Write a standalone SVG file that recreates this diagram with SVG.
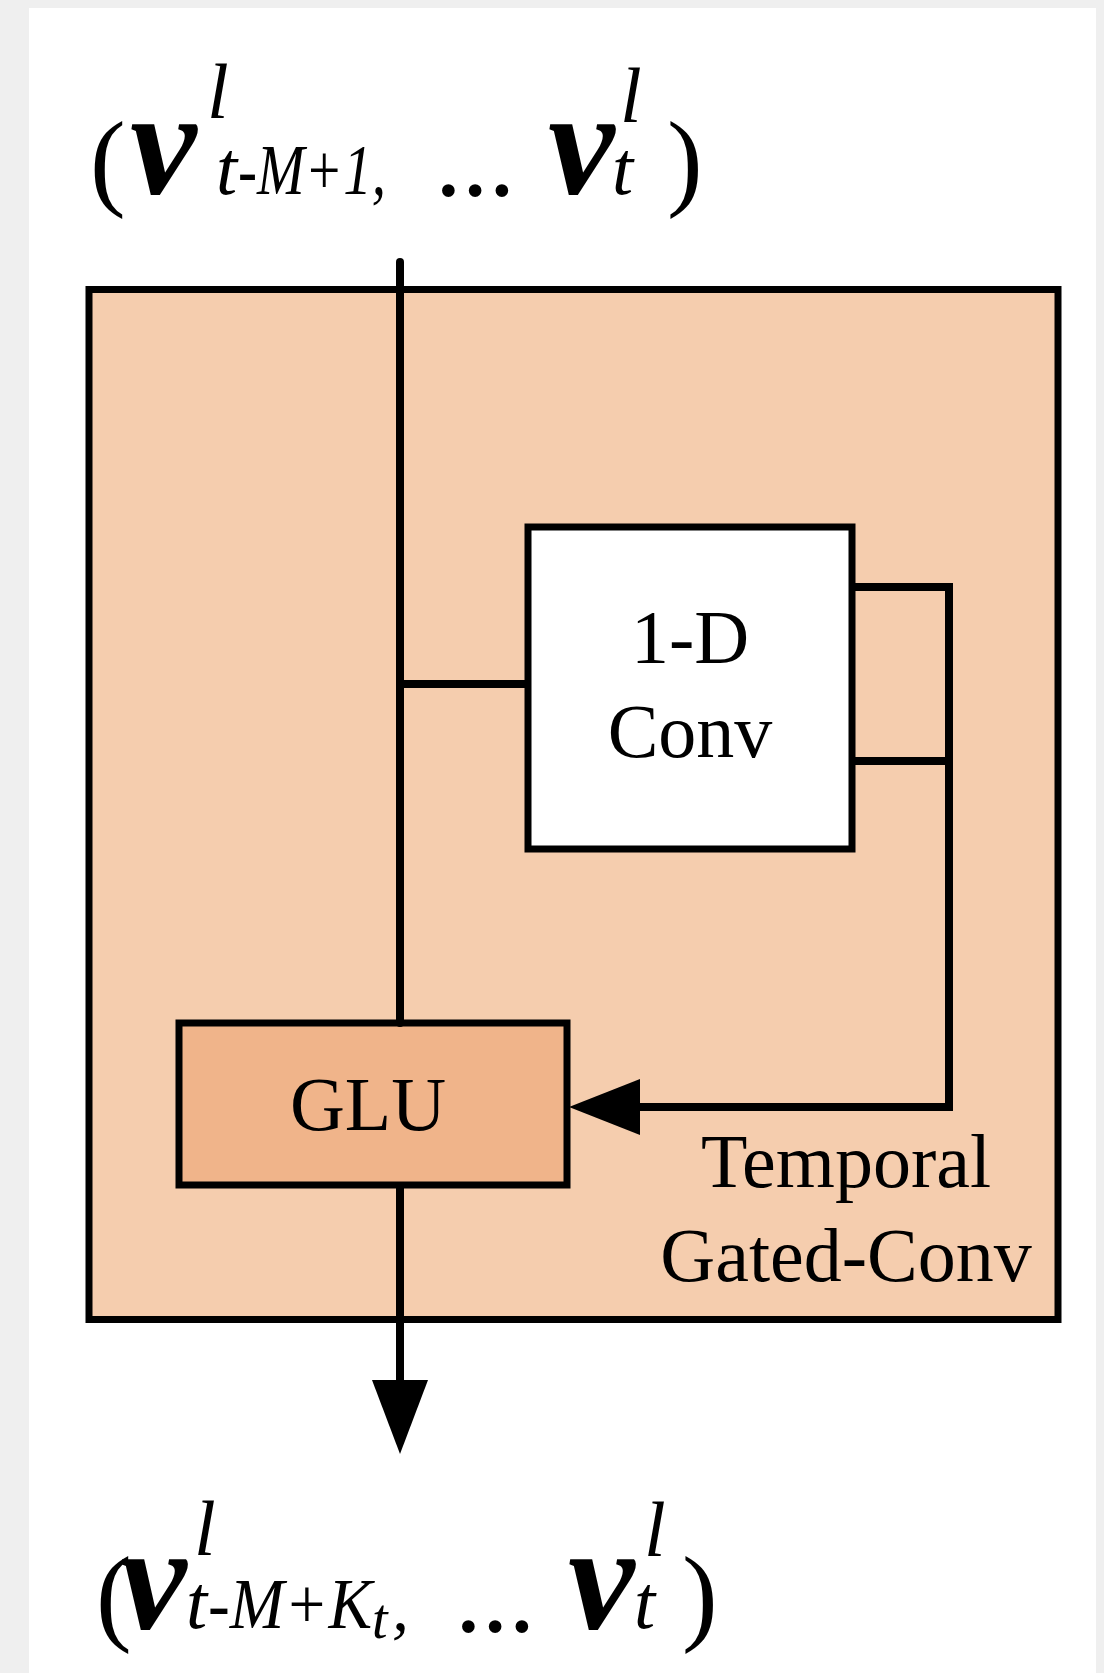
<svg xmlns="http://www.w3.org/2000/svg" width="1104" height="1673" viewBox="0 0 1104 1673">
<style>
.serif{font-family:"Liberation Serif","Times New Roman",serif;fill:#000}
.lbl{font-size:76px;text-anchor:middle}
.it{font-style:italic}
.bi{font-style:italic;font-weight:bold}
.box{stroke:#000;stroke-width:7}
.ln{stroke:#000;stroke-width:8;fill:none}
</style>
<rect x="0" y="0" width="1104" height="1673" fill="#efefef"/>
<rect x="29" y="8" width="1067" height="1665" fill="#ffffff"/>

<g id="input-label">
<text class="serif" font-size="107"><tspan x="90" y="196">(</tspan><tspan x="130" y="194" font-size="150" class="bi">v</tspan><tspan x="207" y="118" font-size="78" class="it">l</tspan><tspan x="216" y="194" font-size="76" class="it">t</tspan><tspan x="238" y="194" font-size="72" class="it" textLength="148" lengthAdjust="spacingAndGlyphs">-M+1,</tspan><tspan x="435" y="195">...</tspan><tspan x="548" y="194" font-size="150" class="bi">v</tspan><tspan x="620" y="122" font-size="78" class="it">l</tspan><tspan x="612" y="194" font-size="76" class="it">t</tspan><tspan x="667" y="196">)</tspan></text>
</g>

<g id="block">
<rect x="89" y="289.5" width="969" height="1030" fill="#f5cdae" class="box"/>
</g>

<g id="conv">
<rect x="528" y="527" width="324" height="322" fill="#ffffff" class="box"/>
<text x="690" y="663" class="serif lbl">1-D</text>
<text x="690" y="757" class="serif lbl">Conv</text>
</g>

<g id="glu">
<rect x="179" y="1023" width="388" height="162" fill="#f0b48a" class="box"/>
<text x="368" y="1130" class="serif lbl">GLU</text>
</g>

<g id="block-label">
<text x="846" y="1187" class="serif lbl">Temporal</text>
<text x="846" y="1281" class="serif lbl">Gated-Conv</text>
</g>

<g id="connectors">
<line x1="400" y1="262" x2="400" y2="1023" class="ln" stroke-linecap="round"/>
<line x1="400" y1="684" x2="528" y2="684" class="ln"/>
<polyline points="852,587 949,587 949,1107 636,1107" class="ln"/>
<line x1="852" y1="761" x2="949" y2="761" class="ln"/>
<polygon points="569,1107 640,1079 640,1135" fill="#000"/>
<line x1="400" y1="1185" x2="400" y2="1384" class="ln"/>
<polygon points="400,1454 372,1380 428,1380" fill="#000"/>
</g>

<g id="output-label">
<text class="serif" font-size="107"><tspan x="96" y="1631">(</tspan><tspan x="120" y="1629" font-size="150" class="bi">v</tspan><tspan x="194" y="1555" font-size="78" class="it">l</tspan><tspan x="186" y="1628" font-size="76" class="it">t</tspan><tspan x="208" y="1628" font-size="72" class="it" textLength="164" lengthAdjust="spacingAndGlyphs">-M+K</tspan><tspan x="372" y="1638" font-size="56" class="it">t</tspan><tspan x="392" y="1630" font-size="68" class="it">,</tspan><tspan x="455" y="1631">...</tspan><tspan x="568" y="1629" font-size="150" class="bi">v</tspan><tspan x="644" y="1556" font-size="78" class="it">l</tspan><tspan x="634" y="1628" font-size="76" class="it">t</tspan><tspan x="682" y="1631">)</tspan></text>
</g>
</svg>
